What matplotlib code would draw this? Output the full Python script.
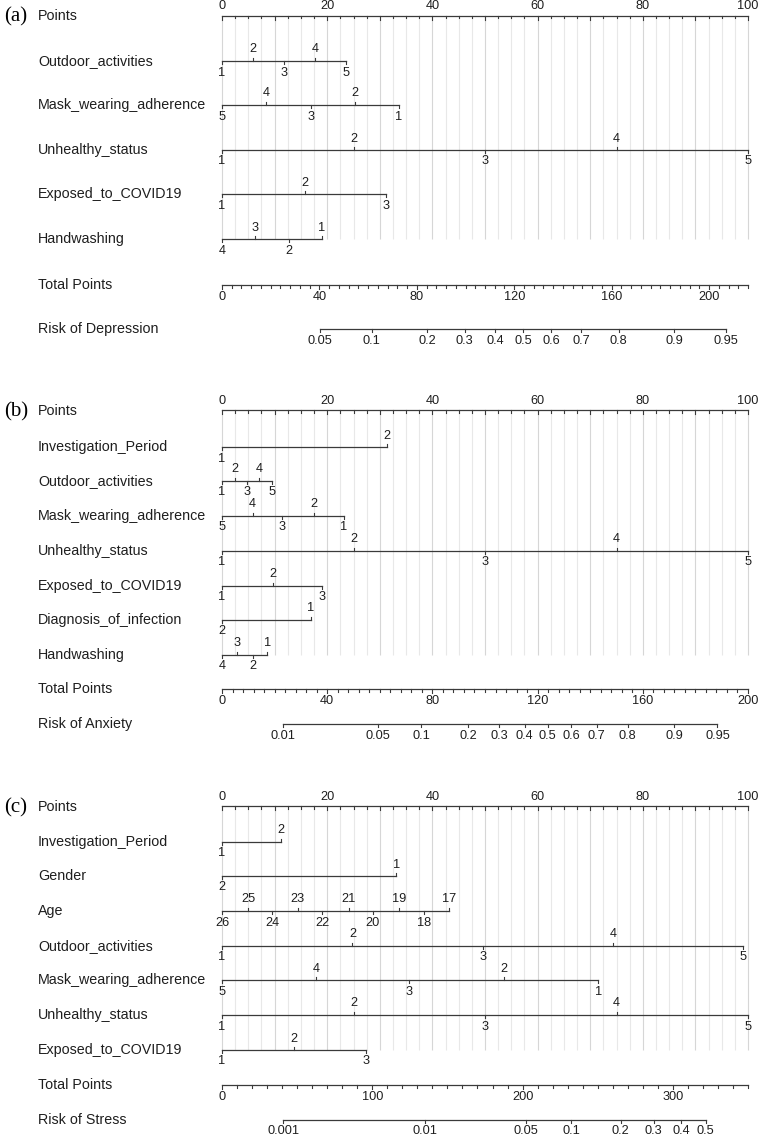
"""
Three nomograms (depression / anxiety / stress) drawn on one figure
"""
import numpy as np
import matplotlib.pyplot as plt

plt.rcParams['font.family'] = ['Liberation Sans', 'DejaVu Sans']

# ---- panel (a): depression ----
dep_vars = ['Outdoor_activities', 'Mask_wearing_adherence', 'Unhealthy_status',
            'Exposed_to_COVID19', 'Handwashing']
dep_levels = [[1, 2, 3, 4, 5], [5, 4, 3, 2, 1], [1, 2, 3, 4, 5], [1, 2, 3], [4, 3, 2, 1]]
dep_points = [[0, 5.9, 11.8, 17.7, 23.5], [0, 8.4, 16.9, 25.3, 33.6],
              [0, 25, 50, 75, 100], [0, 15.7, 31.2], [0, 6.3, 12.7, 19.0]]
dep_total_max = 216
dep_total_labels = [0, 40, 80, 120, 160, 200]
dep_risk = [0.05, 0.1, 0.2, 0.3, 0.4, 0.5, 0.6, 0.7, 0.8, 0.9, 0.95]
dep_risk_mid = 123.6    # total points at risk 0.5
dep_risk_scale = 28.3   # total points per logit unit

# ---- panel (b): anxiety ----
anx_vars = ['Investigation_Period', 'Outdoor_activities', 'Mask_wearing_adherence',
            'Unhealthy_status', 'Exposed_to_COVID19', 'Diagnosis_of_infection', 'Handwashing']
anx_levels = [[1, 2], [1, 2, 3, 4, 5], [5, 4, 3, 2, 1], [1, 2, 3, 4, 5], [1, 2, 3], [2, 1],
              [4, 3, 2, 1]]
anx_points = [[0, 31.3], [0, 2.4, 4.75, 7.1, 9.5], [0, 5.8, 11.5, 17.4, 23.1],
              [0, 25, 50, 75, 100], [0, 9.7, 19.1], [0, 16.9], [0, 2.9, 5.8, 8.6]]
anx_total_max = 200
anx_total_labels = [0, 40, 80, 120, 160, 200]
anx_risk = [0.01, 0.05, 0.1, 0.2, 0.3, 0.4, 0.5, 0.6, 0.7, 0.8, 0.9, 0.95]
anx_risk_mid = 123.9
anx_risk_scale = 21.9

# ---- panel (c): stress ----
str_vars = ['Investigation_Period', 'Gender', 'Age', 'Outdoor_activities',
            'Mask_wearing_adherence', 'Unhealthy_status', 'Exposed_to_COVID19']
str_levels = [[1, 2], [2, 1], [26, 25, 24, 23, 22, 21, 20, 19, 18, 17], [1, 2, 3, 4, 5],
              [5, 4, 3, 2, 1], [1, 2, 3, 4, 5], [1, 2, 3]]
str_points = [[0, 11.2], [0, 33.1],
              [0, 5.0, 9.6, 14.4, 19.1, 24.1, 28.7, 33.6, 38.4, 43.2],
              [0, 24.8, 49.6, 74.3, 99.0], [0, 17.9, 35.6, 53.6, 71.5],
              [0, 25, 50, 75, 100], [0, 13.6, 27.4]]
str_total_max = 350
str_total_labels = [0, 100, 200, 300]
str_risk = [0.001, 0.01, 0.05, 0.1, 0.2, 0.3, 0.4, 0.5]
str_risk_mid = 321.8
str_risk_scale = 40.7

# layout (pixels on a 762 x 1137 canvas)
W, H = 762, 1137
X0, X1 = 222, 748          # pixel position of 0 and 100 points
LABEL_X = 38
INK = '#1e1e1e'
LINE = '#3a3a3a'
NUM_FS = 9.2
NAME_FS = 10.3


def px2x(px):
    return (px - X0) / (X1 - X0) * 100


def draw_points_axis(ax, y):
    ax.plot([0, 100], [y, y], color=LINE, lw=0.9)
    for v in np.arange(0, 100.01, 2.5):
        ln = 4 if v % 10 == 0 else 2.5
        ax.plot([v, v], [y, y + ln], color=LINE, lw=0.8)
    for v in range(0, 101, 20):
        ax.text(v, y - 9.5, str(v), ha='center', va='center', fontsize=NUM_FS, color=INK)


def draw_predictor(ax, y, levels, pts):
    ax.plot([min(pts), max(pts)], [y, y], color=LINE, lw=0.9)
    for i, (lev, p) in enumerate(zip(levels, pts)):
        sgn = -1 if i % 2 == 1 else 1   # alternate labels above / below
        ax.plot([p, p], [y, y + sgn * 3], color=LINE, lw=0.8)
        ax.text(p, y + sgn * 11.5, str(lev), ha='center', va='center',
                fontsize=NUM_FS, color=INK)


def draw_total_axis(ax, y, total_max, labels, minor):
    ax.plot([0, 100], [y, y], color=LINE, lw=0.9)
    for v in np.arange(0, total_max + 0.01, minor):
        x = v / total_max * 100
        ln = 4 if v in labels else 2.5
        ax.plot([x, x], [y, y + ln], color=LINE, lw=0.8)
    for v in labels:
        ax.text(v / total_max * 100, y + 11.5, str(v), ha='center', va='center',
                fontsize=NUM_FS, color=INK)


def draw_risk_axis(ax, y, risks, mid, scale, total_max):
    r = np.array(risks)
    xs = (mid + scale * np.log(r / (1 - r))) / total_max * 100
    ax.plot([xs[0], xs[-1]], [y, y], color=LINE, lw=0.9)
    for x, p in zip(xs, risks):
        ax.plot([x, x], [y, y + 3], color=LINE, lw=0.8)
        ax.text(x, y + 11.5, '%g' % p, ha='center', va='center', fontsize=NUM_FS, color=INK)


def draw_panel(ax, letter, y_points, y_rows, y_total, y_risk, names, levels, points,
               total_max, total_labels, minor, risk_title, risks, mid, scale):
    # light vertical guide lines
    grid = np.arange(0, 100.01, 2.5)
    ax.vlines([g for g in grid if g % 10 != 0], y_points, y_rows[-1],
              colors='#e8e8e8', lw=0.8, zorder=0)
    ax.vlines([g for g in grid if g % 10 == 0], y_points, y_rows[-1],
              colors='#d6d6d6', lw=0.8, zorder=0)

    ax.text(px2x(4), y_points + 1.5, letter, ha='left', va='center', fontsize=15,
            family='Liberation Serif', color='black')
    ax.text(px2x(LABEL_X), y_points + 1, 'Points', ha='left', va='center',
            fontsize=NAME_FS, color=INK)
    draw_points_axis(ax, y_points)

    for name, y, lev, pts in zip(names, y_rows, levels, points):
        ax.text(px2x(LABEL_X), y, name, ha='left', va='center', fontsize=NAME_FS, color=INK)
        draw_predictor(ax, y, lev, pts)

    ax.text(px2x(LABEL_X), y_total, 'Total Points', ha='left', va='center',
            fontsize=NAME_FS, color=INK)
    draw_total_axis(ax, y_total, total_max, total_labels, minor)

    ax.text(px2x(LABEL_X), y_risk, risk_title, ha='left', va='center',
            fontsize=NAME_FS, color=INK)
    draw_risk_axis(ax, y_risk, risks, mid, scale, total_max)


fig = plt.figure(figsize=(W / 100, H / 100), dpi=100)
ax = fig.add_axes([0, 0, 1, 1])
ax.set_xlim(px2x(0), px2x(W))
ax.set_ylim(H, 0)
ax.axis('off')

draw_panel(ax, '(a)', 15.5, [61, 105, 150, 194.3, 239.3], 285, 329.3,
           dep_vars, dep_levels, dep_points, dep_total_max, dep_total_labels, 4,
           'Risk of Depression', dep_risk, dep_risk_mid, dep_risk_scale)

draw_panel(ax, '(b)', 410, [447.3, 480.7, 515.7, 550.7, 585.7, 619.7, 654.7], 689.3, 724.3,
           anx_vars, anx_levels, anx_points, anx_total_max, anx_total_labels, 4,
           'Risk of Anxiety', anx_risk, anx_risk_mid, anx_risk_scale)

draw_panel(ax, '(c)', 806, [841.7, 876, 911, 945.7, 980.3, 1015, 1050], 1085, 1120,
           str_vars, str_levels, str_points, str_total_max, str_total_labels, 10,
           'Risk of Stress', str_risk, str_risk_mid, str_risk_scale)

plt.savefig('out.png', dpi=100)
